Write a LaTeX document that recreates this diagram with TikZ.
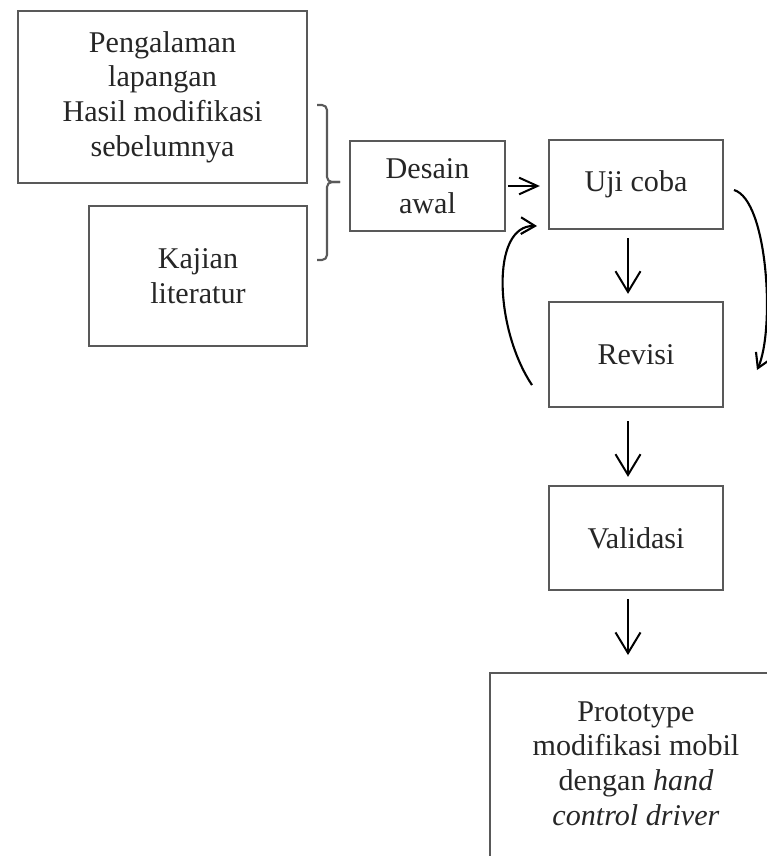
\documentclass[tikz,border=0pt]{standalone}
\usepackage{fontspec}
\setmainfont{Liberation Serif}
\usetikzlibrary{arrows.meta}

\begin{document}
\begin{tikzpicture}[x=0.03cm,y=-0.03cm,
  box/.style={draw=black!65,line width=2pt,align=center,inner sep=0pt,
    text=black!85,font=\fontsize{25.7}{29.5}\selectfont},
  arr/.style={line width=1.7pt,-{Straight Barb[length=0.62cm,width=0.75cm]}},
  sarr/.style={line width=1.7pt,-{Straight Barb[length=0.55cm,width=0.5cm]}},
  carr/.style={line width=1.8pt,-{Straight Barb[length=0.42cm,width=0.5cm]}},
  brc/.style={draw=black!65,line width=1.8pt,rounded corners=0.15cm}]
  \useasboundingbox (0,0) rectangle (767,856);
  % input boxes
  \node[box,minimum width=8.67cm,minimum height=5.16cm] (peng) at (162.5,97)
    {Pengalaman\\lapangan\\Hasil modifikasi\\sebelumnya};
  \node[box,minimum width=6.54cm,minimum height=4.2cm] (kaj) at (198,276)
    {Kajian\\literatur};
  \coordinate (bt) at (317,105);
  \coordinate (bb) at (317,260);
  \coordinate (btip) at (340,182);
  \draw[brc] (bt) -| (327,182) -- (btip);
  \draw[brc] (btip) -- (327,182) |- (bb);
  % main flow
  \node[box,minimum width=4.65cm,minimum height=2.7cm] (desain) at (427.5,186) {Desain\\awal};
  \node[box,minimum width=5.22cm,minimum height=2.67cm] (uji) at (636,184.5) {Uji coba};
  \node[box,minimum width=5.22cm,minimum height=3.15cm] (revisi) at (636,354.5) {Revisi};
  \node[box,minimum width=5.22cm,minimum height=3.12cm] (valid) at (636,538) {Validasi};
  \node[box,minimum width=8.76cm,inner ysep=0.72cm,text depth=4.5cm,anchor=north] (proto) at (636,672)
    {\begin{tabular}[t]{@{}c@{}}Prototype\\modifikasi mobil\\dengan \textit{hand}\\\textit{control driver}\end{tabular}};
  \draw[sarr,shorten <=0.06cm,shorten >=0.24cm] (desain.east) -- (desain.east -| uji.west);
  \draw[arr,shorten <=0.24cm,shorten >=0.21cm] ([xshift=-0.24cm]uji.south) -- ([xshift=-0.24cm]revisi.north);
  \draw[arr,shorten <=0.39cm,shorten >=0.24cm] ([xshift=-0.24cm]revisi.south) -- ([xshift=-0.24cm]valid.north);
  \draw[arr,shorten <=0.24cm,shorten >=0.51cm] ([xshift=-0.24cm]valid.south) -- ([xshift=-0.24cm]proto.north);
  % loop
  \coordinate (lb) at (532,385);
  \coordinate (lt) at (537,226);
  \draw[carr] (lb) .. controls (495,330) and (490,225) .. (lt);
  \coordinate (rt) at (734,190);
  \coordinate (rb) at (757,370);
  \draw[carr] (rt) .. controls (768,200) and (775,330) .. (rb);
\end{tikzpicture}
\end{document}
